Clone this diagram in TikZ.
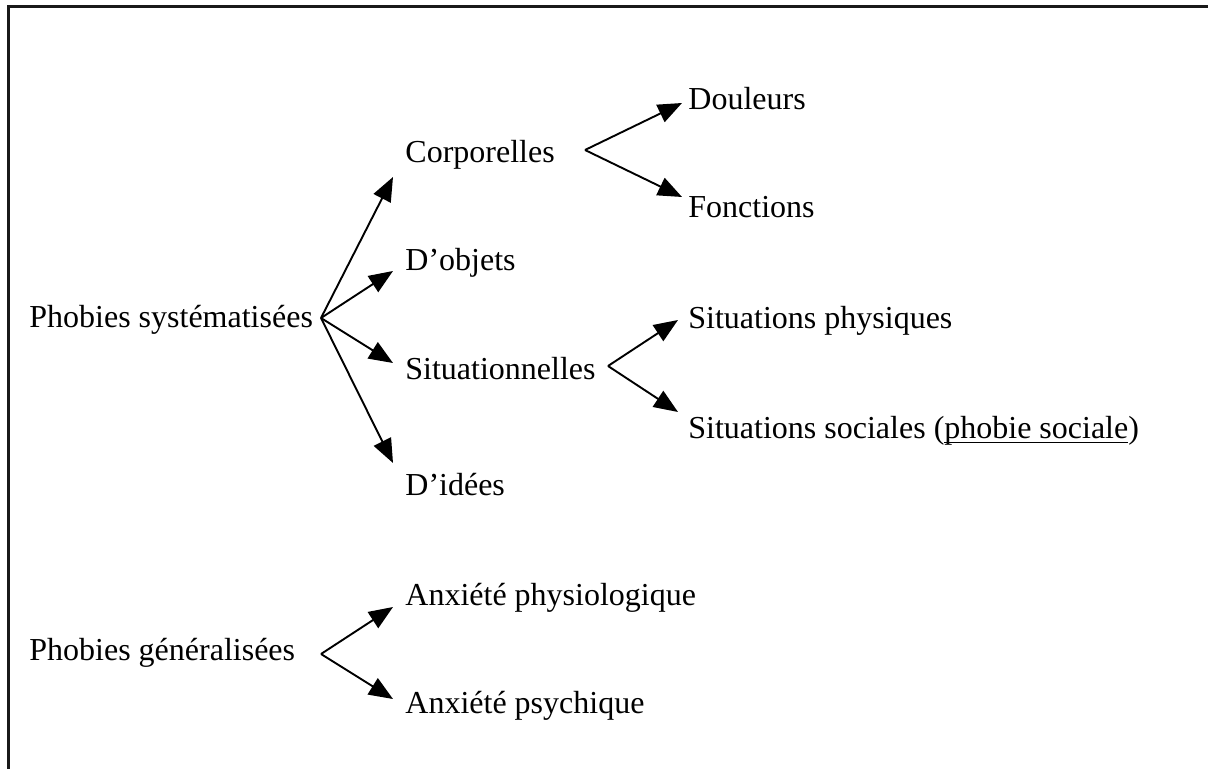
\documentclass[tikz,border=0pt]{standalone}
\usepackage{fontspec}
\setmainfont{Liberation Serif}
\usetikzlibrary{arrows.meta}
% Word-style underline: a rule just below the baseline, through descenders
\newcommand\wordul[1]{\setbox0\hbox{#1}\rlap{\rule[-2.6pt]{\wd0}{0.8pt}}#1}
\tikzset{
  lbl/.style={anchor=base west, inner sep=0pt, font=\fontsize{16}{19}\selectfont},
  arr/.style={line width=0.95pt, -{Triangle[length=12pt,width=9.5pt]}},
  frame/.style={line width=1.2pt, black!90}
}
\begin{document}
\begin{tikzpicture}[x=0.5pt, y=-0.5pt]
  \useasboundingbox (0,0) rectangle (1208,769);
  % open frame: top and left edges
  \draw[frame] (1208,6.5) -- (8.5,6.5) -- (8.5,769);

  % text labels
  \node[lbl] (ps)    at (29,328)  {Phobies systématisées};
  \node[lbl] (corp)  at (405,163) {Corporelles};
  \node[lbl] (dobj)  at (405,271) {D’objets};
  \node[lbl] (situ)  at (405,380) {Situationnelles};
  \node[lbl] (idees) at (405,495) {D’idées};
  \node[lbl] (doul)  at (688,110) {Douleurs};
  \node[lbl] (fonc)  at (688,218) {Fonctions};
  \node[lbl] (sphys) at (688,329) {Situations physiques};
  \node[lbl] (ssoc)  at (688,438) {Situations sociales (\wordul{phobie sociale})};
  \node[lbl] (pg)    at (29,660)  {Phobies généralisées};
  \node[lbl] (aphys) at (405,605) {Anxiété physiologique};
  \node[lbl] (apsy)  at (405,713) {Anxiété psychique};

  % branching points
  \coordinate (ops) at (321,318);
  \coordinate (oco) at (585,150);
  \coordinate (osi) at (608,366);
  \coordinate (opg) at (321,654);

  % arrows
  \draw[arr] (ops) -- ([shift={(-12,14)}]corp.base west);
  \draw[arr] (ops) -- ([shift={(-12,0)}]dobj.base west);
  \draw[arr] (ops) -- ([shift={(-12,-17)}]situ.base west);
  \draw[arr] (ops) -- ([shift={(-12,-32)}]idees.base west);

  \draw[arr] (oco) -- ([shift={(-6,-7)}]doul.base west);
  \draw[arr] (oco) -- ([shift={(-6,-21)}]fonc.base west);

  \draw[arr] (osi) -- ([shift={(-10,-9)}]sphys.base west);
  \draw[arr] (osi) -- ([shift={(-10,-26)}]ssoc.base west);

  \draw[arr] (opg) -- ([shift={(-12,2)}]aphys.base west);
  \draw[arr] (opg) -- ([shift={(-12,-14)}]apsy.base west);
\end{tikzpicture}
\end{document}
